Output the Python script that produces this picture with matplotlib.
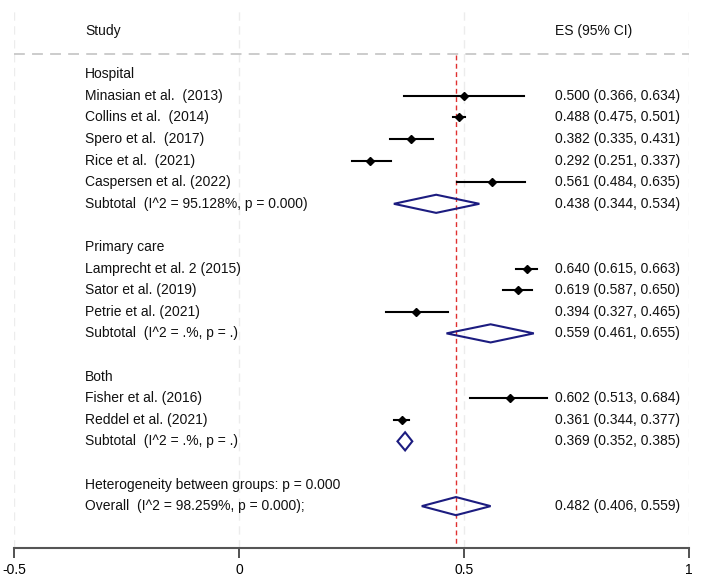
import numpy as np
import matplotlib.pyplot as plt
from matplotlib.patches import Polygon

plt.rcParams['font.family'] = ['Liberation Sans', 'DejaVu Sans']

# Rows of the forest plot (None = no estimate on that row)
labels = ['Hospital', 'Minasian et al.  (2013)', 'Collins et al.  (2014)', 'Spero et al.  (2017)',
          'Rice et al.  (2021)', 'Caspersen et al. (2022)', 'Subtotal  (I^2 = 95.128%, p = 0.000)', '',
          'Primary care', 'Lamprecht et al. 2 (2015)', 'Sator et al. (2019)', 'Petrie et al. (2021)',
          'Subtotal  (I^2 = .%, p = .)', '',
          'Both', 'Fisher et al. (2016)', 'Reddel et al. (2021)', 'Subtotal  (I^2 = .%, p = .)', '',
          'Heterogeneity between groups: p = 0.000', 'Overall  (I^2 = 98.259%, p = 0.000);']
kind = ['head', 'study', 'study', 'study', 'study', 'study', 'sub', 'blank',
        'head', 'study', 'study', 'study', 'sub', 'blank',
        'head', 'study', 'study', 'sub', 'blank',
        'head', 'sub']
es = [None, 0.500, 0.488, 0.382, 0.292, 0.561, 0.438, None,
      None, 0.640, 0.619, 0.394, 0.559, None,
      None, 0.602, 0.361, 0.369, None,
      None, 0.482]
lo = [None, 0.366, 0.475, 0.335, 0.251, 0.484, 0.344, None,
      None, 0.615, 0.587, 0.327, 0.461, None,
      None, 0.513, 0.344, 0.352, None,
      None, 0.406]
hi = [None, 0.634, 0.501, 0.431, 0.337, 0.635, 0.534, None,
      None, 0.663, 0.650, 0.465, 0.655, None,
      None, 0.684, 0.377, 0.385, None,
      None, 0.559]
overall = 0.482
xticks = [-0.5, 0, 0.5, 1]
xticklabels = ['-0.5', '0', '0.5', '1']

fig = plt.figure(figsize=(7.01, 5.83), dpi=100)
ax = fig.add_axes([0.020, 0.060, 0.963, 0.926])
ax.set_xlim(-0.5, 1)
ax.set_ylim(23.94, -1.06)

fs = 10
txt_x = -0.342
es_x = 0.702

# faint vertical gridlines
for t in xticks:
    ax.axvline(t, color='#ececec', lw=1, ls=(0, (6, 4)), zorder=0)

# header
ax.text(txt_x, 0, 'Study', fontsize=fs, va='center', ha='left', color='#111111')
ax.text(es_x, 0, 'ES (95% CI)', fontsize=fs, va='center', ha='left', color='#111111')
ax.axhline(1.06, color='#c8c8c8', lw=1.3, ls=(0, (6, 4)), zorder=1)

# red dashed line at overall estimate
ax.plot([overall, overall], [1.1, 23.94], color='#e03030', lw=1, ls=(0, (3.5, 2.5)), zorder=2)

for i, (lab, k) in enumerate(zip(labels, kind)):
    y = i + 2
    if lab:
        ax.text(txt_x, y, lab, fontsize=fs, va='center', ha='left', color='#111111')
    if es[i] is None:
        continue
    ax.text(es_x, y, '%.3f (%.3f, %.3f)' % (es[i], lo[i], hi[i]), fontsize=fs,
            va='center', ha='left', color='#111111')
    if k == 'study':
        ax.plot([lo[i], hi[i]], [y, y], color='black', lw=1.5, zorder=3)
        ax.plot(es[i], y, marker='D', ms=4.5, color='black', zorder=4)
    else:
        h = 0.42
        d = Polygon([[lo[i], y], [es[i], y - h], [hi[i], y], [es[i], y + h]], closed=True,
                    fill=False, edgecolor='#1c1c80', lw=1.5, zorder=4)
        ax.add_patch(d)

for s in ['top', 'left', 'right']:
    ax.spines[s].set_visible(False)
ax.spines['bottom'].set_color('#555555')
ax.spines['bottom'].set_linewidth(1.5)
ax.set_yticks([])
ax.set_xticks(xticks)
ax.set_xticklabels(xticklabels, fontsize=fs)
ax.tick_params(axis='x', direction='out', length=7, width=1.2, color='#333333', pad=4)

fig.savefig('out.png', dpi=100)
